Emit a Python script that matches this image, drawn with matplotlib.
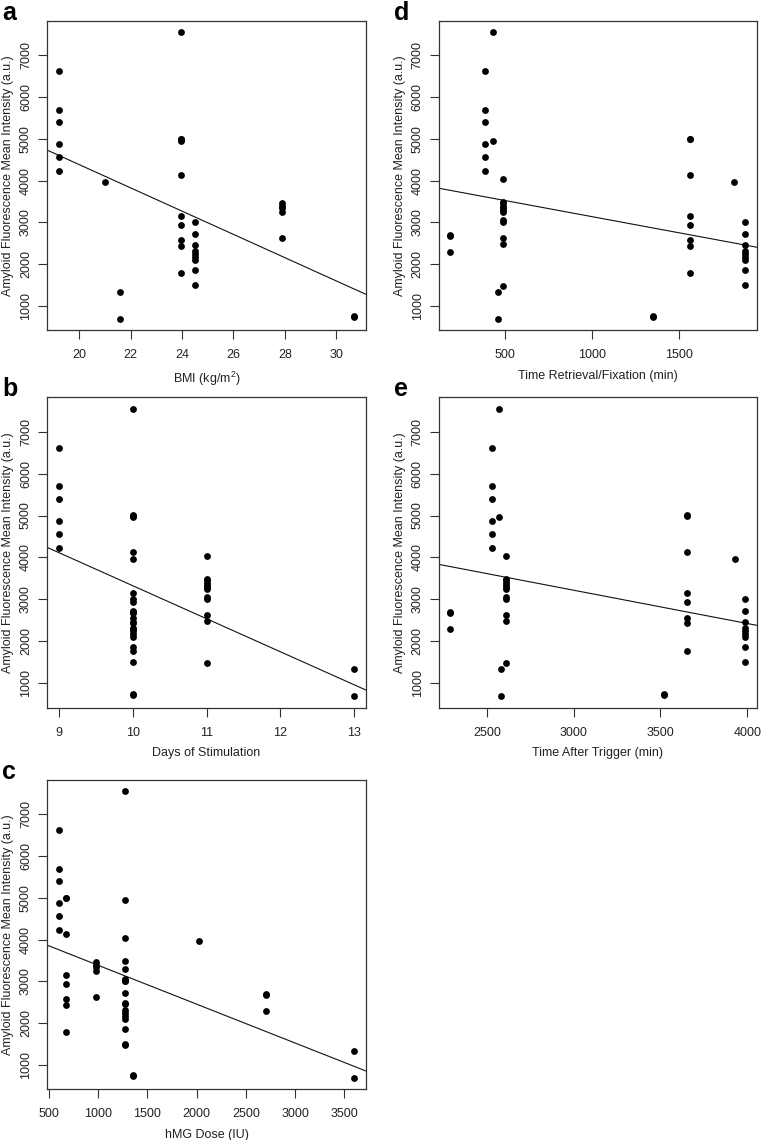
import numpy as np
import matplotlib
matplotlib.use('Agg')
import matplotlib.pyplot as plt

plt.rcParams['font.family'] = ['Liberation Sans', 'DejaVu Sans']
plt.rcParams['mathtext.fontset'] = 'custom'
plt.rcParams['mathtext.rm'] = 'Liberation Sans'
plt.rcParams['mathtext.it'] = 'Liberation Sans:italic'

# one value per subject (NaN = not recorded)
amyloid = [6620, 5700, 5400, 4880, 4560, 4230,
           7550, 4960,
           1340, 700,
           2710, 2680, 2300,
           750, 730,
           5010, 4990, 4140, 3150, 2930, 2570, 2440, 1780,
           3970,
           3010, 2735, 2465, 2310, 2255, 2180, 2110, 1870, 1515,
           3460, 3390, 3340, 3250, 2630,
           4030, 3480, 3300, 3060, 3000, 2480, 1490]

bmi = [19.2, 19.2, 19.2, 19.2, 19.2, 19.2,
       23.95, 23.95,
       21.6, 21.6,
       np.nan, np.nan, np.nan,
       30.7, 30.7,
       23.95, 23.95, 23.95, 23.95, 23.95, 23.95, 23.95, 23.95,
       21.0,
       24.5, 24.5, 24.5, 24.5, 24.5, 24.5, 24.5, 24.5, 24.5,
       27.9, 27.9, 27.9, 27.9, 27.9,
       np.nan, np.nan, np.nan, np.nan, np.nan, np.nan, np.nan]

days = [9, 9, 9, 9, 9, 9,
        10, 10,
        13, 13,
        10, 10, 10,
        10, 10,
        10, 10, 10, 10, 10, 10, 10, 10,
        10,
        10, 10, 10, 10, 10, 10, 10, 10, 10,
        11, 11, 11, 11, 11,
        11, 11, 11, 11, 11, 11, 11]

hmg = [600, 600, 600, 600, 600, 600,
       1275, 1275,
       3600, 3600,
       2700, 2700, 2700,
       1350, 1350,
       675, 675, 675, 675, 675, 675, 675, 675,
       2025,
       1275, 1275, 1275, 1275, 1275, 1275, 1275, 1275, 1275,
       975, 975, 975, 975, 975,
       1275, 1275, 1275, 1275, 1275, 1275, 1275]

retrieval = [385, 385, 385, 385, 385, 385,
             430, 430,
             458, 458,
             187, 187, 187,
             1351, 1351,
             1559, 1559, 1559, 1559, 1559, 1559, 1559, 1559,
             1813,
             1878, 1878, 1878, 1878, 1878, 1878, 1878, 1878, 1878,
             489, 489, 489, 489, 489,
             489, 489, 489, 489, 489, 489, 489]

trigger = [2531, 2531, 2531, 2531, 2531, 2531,
           2569, 2569,
           2579, 2579,
           2291, 2291, 2291,
           3521, 3521,
           3655, 3655, 3655, 3655, 3655, 3655, 3655, 3655,
           3927,
           3988, 3988, 3988, 3988, 3988, 3988, 3988, 3988, 3988,
           2611, 2611, 2611, 2611, 2611,
           2611, 2611, 2611, 2611, 2611, 2611, 2611]

# regression lines (intercept, slope), panels a-e
fit_intercept = [9948, 11202, 4318, 3913, 5600]
fit_slope = [-278.2, -787.3, -0.9305, -0.774, -0.7932]

yticks = [1000, 2000, 3000, 4000, 5000, 6000, 7000]
ylab = 'Amyloid Fluorescence Mean Intensity (a.u.)'

W, H = 762, 1140
fig = plt.figure(figsize=(W / 100, H / 100), dpi=100)


def rlim(v):
    v = np.asarray(v, dtype=float)
    v = v[~np.isnan(v)]
    lo, hi = v.min(), v.max()
    d = (hi - lo) * 0.04
    return lo - d, hi + d


def panel(box, x, xticks, xlabel, letter, icpt, slope):
    left, top, right, bottom = box
    ax = fig.add_axes([left / W, 1 - bottom / H, (right - left) / W, (bottom - top) / H])
    x = np.asarray(x, dtype=float)
    y = np.asarray(amyloid, dtype=float)
    ok = ~np.isnan(x)
    ax.scatter(x[ok], y[ok], s=24, color='black', linewidths=0, zorder=3)
    ax.axline((0, icpt), slope=slope, color='#111111', lw=0.8)
    ax.set_xlim(rlim(x))
    ax.set_ylim(rlim(y[ok]))
    ax.set_xticks(xticks)
    ax.set_yticks(yticks)
    ax.set_yticklabels([str(t) for t in yticks], rotation=90, va='center')
    ax.tick_params(direction='out', length=6.5, width=0.8, color='#333333',
                   labelsize=9, labelcolor='#222222')
    ax.tick_params(axis='x', pad=7.5)
    ax.tick_params(axis='y', pad=4.3)
    for s in ax.spines.values():
        s.set_color('#333333')
        s.set_linewidth(0.9)
    ax.set_xlabel(xlabel, fontsize=9, color='#222222', labelpad=6)
    ax.set_ylabel(ylab, fontsize=9, color='#222222', labelpad=4)
    fig.text((left - 45) / W, 1 - (top - 1) / H, letter, fontsize=18,
             fontweight='bold', ha='left', va='baseline')
    return ax


panel((47, 21, 366, 330), bmi, [20, 22, 24, 26, 28, 30], 'BMI (kg/m$^2$)', 'a',
      fit_intercept[0], fit_slope[0])
panel((47, 397, 366, 707.5), days, [9, 10, 11, 12, 13], 'Days of Stimulation', 'b',
      fit_intercept[1], fit_slope[1])
panel((47, 780, 366, 1089), hmg, [500, 1000, 1500, 2000, 2500, 3000, 3500], 'hMG Dose (IU)', 'c',
      fit_intercept[2], fit_slope[2])
panel((438.7, 21, 757, 330), retrieval, [500, 1000, 1500], 'Time Retrieval/Fixation (min)', 'd',
      fit_intercept[3], fit_slope[3])
panel((438.7, 397, 757, 707.5), trigger, [2500, 3000, 3500, 4000], 'Time After Trigger (min)', 'e',
      fit_intercept[4], fit_slope[4])

fig.savefig('out.png', dpi=100)
